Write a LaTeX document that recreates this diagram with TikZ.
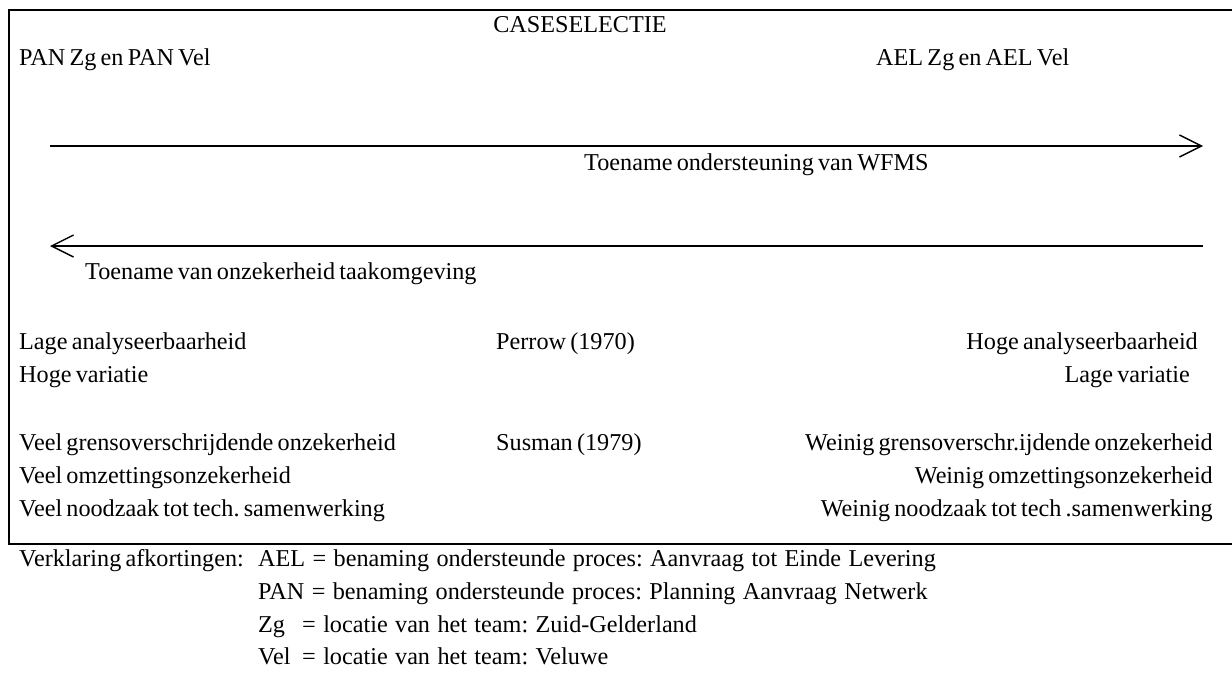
\documentclass[tikz,border=0pt]{standalone}
\usepackage{fontspec}
\setmainfont[WordSpace=0.7]{Liberation Serif}
\usetikzlibrary{arrows.meta}
\begin{document}
\frenchspacing
\begin{tikzpicture}[x=1pt,y=-1pt,
  txt/.style={inner sep=0pt,font=\fontsize{24.2}{28}\selectfont,text height=0.7em,text depth=0.2em},
  lt/.style={txt,anchor=west},
  rt/.style={txt,anchor=east},
  key/.style={lt,execute at begin node={\spaceskip=7.4pt plus 1pt\relax}},
  frame/.style={line width=2.4pt},
  axis/.style={line width=1.4pt},
  tip/.style={-{Straight Barb[length=22pt,width=22pt,line width=1.4pt]}}]
\useasboundingbox (0,0) rectangle (1232,678);
% frame (open on the right)
\coordinate (ftr) at (1232,10);
\coordinate (ftl) at (9,10);
\coordinate (fbl) at (9,544);
\coordinate (fbr) at (1232,544);
\draw[frame] (ftr) -- (ftl) -- (fbl) -- (fbr);
% header
\node[txt,anchor=center] (title) at (580,30) {CASESELECTIE};
\node[lt] (pan) at (19,63) {PAN Zg en PAN Vel};
\node[lt] (ael) at (876,63) {AEL Zg en AEL Vel};
% arrows
\coordinate (a1s) at (50,146);
\coordinate (a1e) at (1203,146);
\draw[axis,tip] (a1s) -- (a1e);
\node[lt] (wfms) at (584,168) {Toename ondersteuning van WFMS};
\coordinate (a2s) at (1203,246);
\coordinate (a2e) at (50,246);
\draw[axis,tip] (a2s) -- (a2e);
\node[lt] (onz) at (85,277) {Toename van onzekerheid taakomgeving};
% Perrow
\node[lt] (l1) at (19,347) {Lage analyseerbaarheid};
\node[lt] (perrow) at (496,347) {Perrow (1970)};
\node[rt] (r1) at (1198,347) {Hoge analyseerbaarheid};
\node[lt] (l2) at (19,380) {Hoge variatie};
\node[rt] (r2) at (1190,380) {Lage variatie};
% Susman
\node[lt] (l3) at (19,448) {Veel grensoverschrijdende onzekerheid};
\node[lt] (susman) at (496,448) {Susman (1979)};
\node[rt] (r3) at (1213,448) {Weinig grensoverschr.ijdende onzekerheid};
\node[lt] (l4) at (19,481) {Veel omzettingsonzekerheid};
\node[rt] (r4) at (1213,481) {Weinig omzettingsonzekerheid};
\node[lt] (l5) at (19,514) {Veel noodzaak tot tech. samenwerking};
\node[rt] (r5) at (1213,514) {Weinig noodzaak tot tech .samenwerking};
% legend
\node[lt] (verkl) at (19,564) {Verklaring afkortingen:};
\node[key] (k1) at (258,564) {AEL = benaming ondersteunde proces: Aanvraag tot Einde Levering};
\node[key] (k2) at (258,597) {PAN = benaming ondersteunde proces: Planning Aanvraag Netwerk};
\node[key] (k3) at (258,630) {\makebox[44pt][l]{Zg}= locatie van het team: Zuid-Gelderland};
\node[key] (k4) at (258,662) {\makebox[44pt][l]{Vel}= locatie van het team: Veluwe};
\end{tikzpicture}
\end{document}
